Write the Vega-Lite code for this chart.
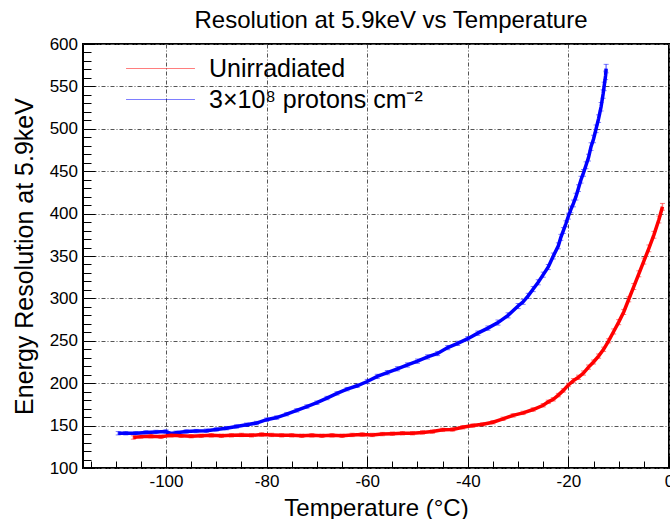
{
  "$schema": "https://vega.github.io/schema/vega-lite/v6.json",
  "width": 586,
  "height": 424,
  "autosize": {"type": "none"},
  "padding": {"left": 83, "top": 44, "right": 1, "bottom": 51},
  "background": "white",
  "config": {
    "font": "Liberation Sans",
    "view": {"stroke": "black", "strokeWidth": 2}
  },
  "title": {
    "text": "Resolution at 5.9keV vs Temperature",
    "fontSize": 24,
    "fontWeight": "normal",
    "color": "black",
    "anchor": "middle",
    "frame": "group",
    "dx": 15,
    "dy": 29,
    "baseline": "alphabetic",
    "offset": 12
  },
  "datasets": {
    "pts": [
      {"s": "3×10⁸ protons cm⁻²", "t": -109.5, "r": 141, "e": 2},
      {"s": "3×10⁸ protons cm⁻²", "t": -108, "r": 141, "e": 2},
      {"s": "3×10⁸ protons cm⁻²", "t": -106, "r": 141, "e": 2},
      {"s": "3×10⁸ protons cm⁻²", "t": -104, "r": 142, "e": 2},
      {"s": "3×10⁸ protons cm⁻²", "t": -102, "r": 142.5, "e": 2},
      {"s": "3×10⁸ protons cm⁻²", "t": -100, "r": 143, "e": 2},
      {"s": "3×10⁸ protons cm⁻²", "t": -99, "r": 140.5, "e": 2},
      {"s": "3×10⁸ protons cm⁻²", "t": -98, "r": 141.5, "e": 2},
      {"s": "3×10⁸ protons cm⁻²", "t": -96, "r": 143, "e": 2},
      {"s": "3×10⁸ protons cm⁻²", "t": -94, "r": 143.5, "e": 2},
      {"s": "3×10⁸ protons cm⁻²", "t": -92, "r": 144, "e": 2},
      {"s": "3×10⁸ protons cm⁻²", "t": -90, "r": 145.5, "e": 2},
      {"s": "3×10⁸ protons cm⁻²", "t": -88, "r": 147, "e": 2},
      {"s": "3×10⁸ protons cm⁻²", "t": -86, "r": 149, "e": 2},
      {"s": "3×10⁸ protons cm⁻²", "t": -84, "r": 151, "e": 2},
      {"s": "3×10⁸ protons cm⁻²", "t": -82, "r": 153, "e": 2},
      {"s": "3×10⁸ protons cm⁻²", "t": -80, "r": 157, "e": 2},
      {"s": "3×10⁸ protons cm⁻²", "t": -78, "r": 159.5, "e": 2},
      {"s": "3×10⁸ protons cm⁻²", "t": -76, "r": 163.5, "e": 2},
      {"s": "3×10⁸ protons cm⁻²", "t": -74, "r": 168, "e": 2},
      {"s": "3×10⁸ protons cm⁻²", "t": -72, "r": 172.5, "e": 2},
      {"s": "3×10⁸ protons cm⁻²", "t": -70, "r": 177, "e": 2},
      {"s": "3×10⁸ protons cm⁻²", "t": -68, "r": 182.5, "e": 2},
      {"s": "3×10⁸ protons cm⁻²", "t": -66, "r": 188, "e": 2},
      {"s": "3×10⁸ protons cm⁻²", "t": -64, "r": 193, "e": 2},
      {"s": "3×10⁸ protons cm⁻²", "t": -62, "r": 197, "e": 2},
      {"s": "3×10⁸ protons cm⁻²", "t": -60, "r": 202, "e": 2.5},
      {"s": "3×10⁸ protons cm⁻²", "t": -58, "r": 208, "e": 2.5},
      {"s": "3×10⁸ protons cm⁻²", "t": -56, "r": 212.5, "e": 2.5},
      {"s": "3×10⁸ protons cm⁻²", "t": -54, "r": 217, "e": 2.5},
      {"s": "3×10⁸ protons cm⁻²", "t": -52, "r": 221.5, "e": 2.5},
      {"s": "3×10⁸ protons cm⁻²", "t": -50, "r": 226, "e": 2.5},
      {"s": "3×10⁸ protons cm⁻²", "t": -48, "r": 231, "e": 2.5},
      {"s": "3×10⁸ protons cm⁻²", "t": -46, "r": 235, "e": 2.5},
      {"s": "3×10⁸ protons cm⁻²", "t": -44, "r": 242, "e": 2.5},
      {"s": "3×10⁸ protons cm⁻²", "t": -42, "r": 247, "e": 2.5},
      {"s": "3×10⁸ protons cm⁻²", "t": -40, "r": 252.5, "e": 2.5},
      {"s": "3×10⁸ protons cm⁻²", "t": -38, "r": 259, "e": 2.5},
      {"s": "3×10⁸ protons cm⁻²", "t": -36, "r": 265, "e": 2.5},
      {"s": "3×10⁸ protons cm⁻²", "t": -34, "r": 271.5, "e": 3},
      {"s": "3×10⁸ protons cm⁻²", "t": -32, "r": 280, "e": 3},
      {"s": "3×10⁸ protons cm⁻²", "t": -30, "r": 291, "e": 3},
      {"s": "3×10⁸ protons cm⁻²", "t": -29, "r": 296, "e": 3},
      {"s": "3×10⁸ protons cm⁻²", "t": -28, "r": 303, "e": 3},
      {"s": "3×10⁸ protons cm⁻²", "t": -27, "r": 311, "e": 3},
      {"s": "3×10⁸ protons cm⁻²", "t": -26, "r": 319, "e": 3},
      {"s": "3×10⁸ protons cm⁻²", "t": -25, "r": 328, "e": 3},
      {"s": "3×10⁸ protons cm⁻²", "t": -24, "r": 337, "e": 3},
      {"s": "3×10⁸ protons cm⁻²", "t": -23, "r": 350, "e": 3.5},
      {"s": "3×10⁸ protons cm⁻²", "t": -22, "r": 362, "e": 3.5},
      {"s": "3×10⁸ protons cm⁻²", "t": -21.5, "r": 372, "e": 3.5},
      {"s": "3×10⁸ protons cm⁻²", "t": -21, "r": 380, "e": 3.5},
      {"s": "3×10⁸ protons cm⁻²", "t": -20.5, "r": 388, "e": 3.5},
      {"s": "3×10⁸ protons cm⁻²", "t": -20, "r": 397, "e": 3.5},
      {"s": "3×10⁸ protons cm⁻²", "t": -19.5, "r": 405, "e": 4},
      {"s": "3×10⁸ protons cm⁻²", "t": -19, "r": 412, "e": 4},
      {"s": "3×10⁸ protons cm⁻²", "t": -18.5, "r": 420, "e": 4},
      {"s": "3×10⁸ protons cm⁻²", "t": -18, "r": 430, "e": 4},
      {"s": "3×10⁸ protons cm⁻²", "t": -17.5, "r": 440, "e": 4},
      {"s": "3×10⁸ protons cm⁻²", "t": -17, "r": 448, "e": 4},
      {"s": "3×10⁸ protons cm⁻²", "t": -16.5, "r": 457, "e": 4},
      {"s": "3×10⁸ protons cm⁻²", "t": -16, "r": 466, "e": 4},
      {"s": "3×10⁸ protons cm⁻²", "t": -15.5, "r": 479, "e": 4.5},
      {"s": "3×10⁸ protons cm⁻²", "t": -15, "r": 488, "e": 4.5},
      {"s": "3×10⁸ protons cm⁻²", "t": -14.5, "r": 500, "e": 4.5},
      {"s": "3×10⁸ protons cm⁻²", "t": -14, "r": 512, "e": 4.5},
      {"s": "3×10⁸ protons cm⁻²", "t": -13.5, "r": 526, "e": 5},
      {"s": "3×10⁸ protons cm⁻²", "t": -13.1, "r": 541, "e": 5},
      {"s": "3×10⁸ protons cm⁻²", "t": -12.9, "r": 550, "e": 5},
      {"s": "3×10⁸ protons cm⁻²", "t": -12.6, "r": 563, "e": 5},
      {"s": "3×10⁸ protons cm⁻²", "t": -12.5, "r": 571, "e": 5},
      {"s": "Unirradiated", "t": -106.5, "r": 136, "e": 2},
      {"s": "Unirradiated", "t": -105, "r": 137, "e": 2},
      {"s": "Unirradiated", "t": -103, "r": 137.5, "e": 2},
      {"s": "Unirradiated", "t": -101, "r": 137, "e": 2},
      {"s": "Unirradiated", "t": -99, "r": 138.5, "e": 2},
      {"s": "Unirradiated", "t": -97, "r": 138, "e": 2},
      {"s": "Unirradiated", "t": -95, "r": 137.5, "e": 2},
      {"s": "Unirradiated", "t": -93, "r": 138, "e": 2},
      {"s": "Unirradiated", "t": -91, "r": 138.5, "e": 2},
      {"s": "Unirradiated", "t": -89, "r": 138, "e": 2},
      {"s": "Unirradiated", "t": -87, "r": 138.5, "e": 2},
      {"s": "Unirradiated", "t": -85, "r": 139, "e": 2},
      {"s": "Unirradiated", "t": -83, "r": 138.5, "e": 2},
      {"s": "Unirradiated", "t": -81, "r": 139.5, "e": 2},
      {"s": "Unirradiated", "t": -79, "r": 139, "e": 2},
      {"s": "Unirradiated", "t": -77, "r": 138.5, "e": 2},
      {"s": "Unirradiated", "t": -75, "r": 138.5, "e": 2},
      {"s": "Unirradiated", "t": -73, "r": 138, "e": 2},
      {"s": "Unirradiated", "t": -71, "r": 138.5, "e": 2},
      {"s": "Unirradiated", "t": -69, "r": 138, "e": 2},
      {"s": "Unirradiated", "t": -67, "r": 138.5, "e": 2},
      {"s": "Unirradiated", "t": -65, "r": 138, "e": 2},
      {"s": "Unirradiated", "t": -63, "r": 139, "e": 2},
      {"s": "Unirradiated", "t": -61, "r": 139.5, "e": 2},
      {"s": "Unirradiated", "t": -59, "r": 139, "e": 2},
      {"s": "Unirradiated", "t": -57, "r": 140, "e": 2},
      {"s": "Unirradiated", "t": -55, "r": 140.5, "e": 2},
      {"s": "Unirradiated", "t": -53, "r": 141, "e": 2},
      {"s": "Unirradiated", "t": -51, "r": 141, "e": 2},
      {"s": "Unirradiated", "t": -49, "r": 142, "e": 2},
      {"s": "Unirradiated", "t": -47, "r": 143, "e": 2},
      {"s": "Unirradiated", "t": -45, "r": 145, "e": 2},
      {"s": "Unirradiated", "t": -43, "r": 145.5, "e": 2},
      {"s": "Unirradiated", "t": -41, "r": 148, "e": 2},
      {"s": "Unirradiated", "t": -39, "r": 150, "e": 2},
      {"s": "Unirradiated", "t": -37, "r": 151.5, "e": 2},
      {"s": "Unirradiated", "t": -35, "r": 154, "e": 2},
      {"s": "Unirradiated", "t": -33, "r": 158, "e": 2},
      {"s": "Unirradiated", "t": -31, "r": 162, "e": 2},
      {"s": "Unirradiated", "t": -29, "r": 165, "e": 2},
      {"s": "Unirradiated", "t": -27, "r": 169, "e": 2},
      {"s": "Unirradiated", "t": -25, "r": 174, "e": 2},
      {"s": "Unirradiated", "t": -24, "r": 178, "e": 2},
      {"s": "Unirradiated", "t": -23, "r": 181, "e": 2},
      {"s": "Unirradiated", "t": -22, "r": 186, "e": 2},
      {"s": "Unirradiated", "t": -21, "r": 191.5, "e": 2},
      {"s": "Unirradiated", "t": -20, "r": 198, "e": 2},
      {"s": "Unirradiated", "t": -19, "r": 203, "e": 2.5},
      {"s": "Unirradiated", "t": -18, "r": 207, "e": 2.5},
      {"s": "Unirradiated", "t": -17, "r": 212, "e": 2.5},
      {"s": "Unirradiated", "t": -16, "r": 219, "e": 2.5},
      {"s": "Unirradiated", "t": -15, "r": 225, "e": 2.5},
      {"s": "Unirradiated", "t": -14, "r": 232, "e": 2.5},
      {"s": "Unirradiated", "t": -13, "r": 240, "e": 2.5},
      {"s": "Unirradiated", "t": -12, "r": 250, "e": 2.5},
      {"s": "Unirradiated", "t": -11, "r": 261, "e": 3},
      {"s": "Unirradiated", "t": -10, "r": 272, "e": 3},
      {"s": "Unirradiated", "t": -9, "r": 284, "e": 3},
      {"s": "Unirradiated", "t": -8, "r": 299, "e": 3},
      {"s": "Unirradiated", "t": -7, "r": 314, "e": 3.5},
      {"s": "Unirradiated", "t": -6, "r": 329, "e": 3.5},
      {"s": "Unirradiated", "t": -5, "r": 344, "e": 3.5},
      {"s": "Unirradiated", "t": -4, "r": 359, "e": 4},
      {"s": "Unirradiated", "t": -3, "r": 375, "e": 4},
      {"s": "Unirradiated", "t": -2, "r": 393, "e": 4},
      {"s": "Unirradiated", "t": -1.3, "r": 408, "e": 4}
    ]
  },
  "data": {"name": "pts"},
  "resolve": {"axis": {"x": "independent", "y": "independent"}},
  "layer": [
    {
      "mark": {"type": "errorbar", "rule": {"opacity": 0.5, "strokeWidth": 1.5}, "ticks": {"size": 5, "opacity": 0.5}},
      "encoding": {
        "x": {"field": "t", "type": "quantitative", "scale": {"domain": [-116.5, 0], "nice": false, "zero": false}, "axis": null},
        "y": {"field": "r", "type": "quantitative", "scale": {"domain": [100, 600], "nice": false, "zero": false}, "axis": null},
        "yError": {"field": "e"},
        "color": {"field": "s", "type": "nominal", "scale": {"domain": ["Unirradiated", "3×10⁸ protons cm⁻²"], "range": ["#ff0000", "#0000ff"]}}
      }
    },
    {
      "mark": {"type": "line", "strokeWidth": 3.5},
      "encoding": {
        "x": {
          "field": "t", "type": "quantitative",
          "scale": {"domain": [-116.5, 0], "nice": false, "zero": false},
          "axis": {
            "orient": "bottom",
            "values": [-100, -80, -60, -40, -20, 0],
            "labelExpr": "'' + datum.value",
            "labelFlush": false,
            "grid": true, "gridDash": [4, 2, 1, 2], "gridColor": "#555", "gridWidth": 1, "gridOpacity": 1,
            "domain": false,
            "tickSize": -12, "tickColor": "black", "tickWidth": 1,
            "labelFontSize": 17, "labelPadding": 17, "labelColor": "black",
            "title": "Temperature (°C)", "titleFontSize": 24, "titleFontWeight": "normal", "titleColor": "black",
            "titleX": 293, "titleY": 47, "titleBaseline": "alphabetic", "titleAlign": "center"
          }
        },
        "y": {
          "field": "r", "type": "quantitative",
          "scale": {"domain": [100, 600], "nice": false, "zero": false},
          "axis": {
            "orient": "left",
            "values": [100, 150, 200, 250, 300, 350, 400, 450, 500, 550, 600],
            "labelFlush": false,
            "grid": true, "gridDash": [4, 2, 1, 2], "gridColor": "#555", "gridWidth": 1, "gridOpacity": 1,
            "domain": false,
            "tickSize": -12, "tickColor": "black", "tickWidth": 1,
            "labelFontSize": 17, "labelPadding": 17.5, "labelColor": "black",
            "title": "Energy Resolution at 5.9keV", "titleFontSize": 25, "titleFontWeight": "normal", "titleColor": "black",
            "titleAngle": 270, "titleX": -51, "titleY": 212, "titleBaseline": "alphabetic", "titleAlign": "center"
          }
        },
        "color": {
          "field": "s", "type": "nominal",
          "scale": {"domain": ["Unirradiated", "3×10⁸ protons cm⁻²"], "range": ["#ff0000", "#0000ff"]},
          "legend": {
            "orient": "none", "legendX": 65, "legendY": 12, "title": null,
            "symbolType": "M-6,0H6", "symbolSize": 132, "symbolStrokeWidth": 1, "symbolFillColor": "transparent",
            "labelFontSize": 25, "labelOffset": 36, "labelLimit": 0, "labelColor": "black", "rowPadding": 5, "padding": 0
          }
        }
      }
    },
    {
      "mark": {"type": "point", "opacity": 0},
      "encoding": {
        "x": {
          "field": "t", "type": "quantitative",
          "scale": {"domain": [-116.5, 0], "nice": false, "zero": false},
          "axis": {
            "orient": "bottom",
            "values": [-115, -110, -105, -95, -90, -85, -75, -70, -65, -55, -50, -45, -35, -30, -25, -15, -10, -5],
            "labels": false, "grid": false, "domain": false, "title": null,
            "tickSize": -7, "tickColor": "black", "tickWidth": 1
          }
        },
        "y": {
          "field": "r", "type": "quantitative",
          "scale": {"domain": [100, 600], "nice": false, "zero": false},
          "axis": {
            "orient": "left",
            "values": [110, 120, 130, 140, 160, 170, 180, 190, 210, 220, 230, 240, 260, 270, 280, 290, 310, 320, 330, 340, 360, 370, 380, 390, 410, 420, 430, 440, 460, 470, 480, 490, 510, 520, 530, 540, 560, 570, 580, 590],
            "labels": false, "grid": false, "domain": false, "title": null,
            "tickSize": -8, "tickColor": "black", "tickWidth": 1
          }
        }
      }
    }
  ]
}
